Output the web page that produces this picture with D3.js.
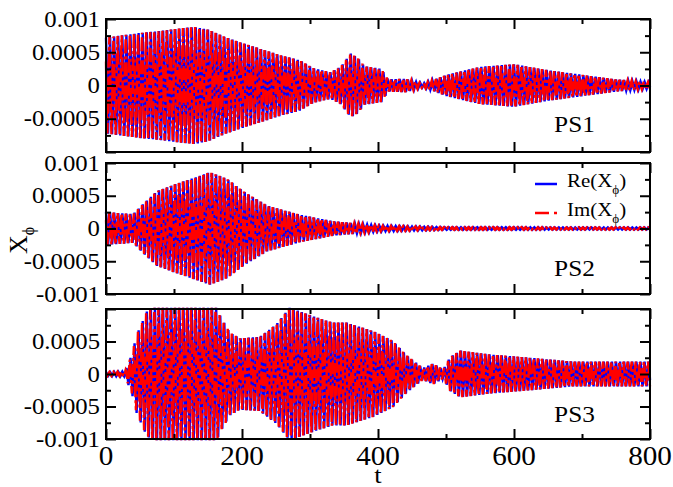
<!DOCTYPE html>
<html><head><meta charset="utf-8">
<script src="https://cdn.jsdelivr.net/npm/d3@7"></script>
<style>
body{margin:0;background:#fff}
svg{display:block}
text{font-family:"Liberation Serif","Times New Roman",Times,"DejaVu Serif",serif;fill:#000}
</style>
</head><body>
<svg id="c" width="673" height="487"></svg>
<script>
// ---- data ----
const panelNames = ["PS1", "PS2", "PS3"];
const xTicks = [0, 200, 400, 600, 800];
const xMinor = [100, 300, 500, 700];
const yTicks = [-0.001, -0.0005, 0, 0.0005, 0.001];
const yMinor = [-0.00075, -0.00025, 0.00025, 0.00075];
const yLabelsShown = [[0.001, 0.0005, 0, -0.0005], [0.001, 0.0005, 0, -0.0005, -0.001], [0.0005, 0, -0.0005, -0.001]];
const seriesNames = ["Re", "Im"];
// one cycle (6 time units) of the fast oscillation, sampled each unit
const carrierRe = [1, 0.5, -0.5, -1, -0.5, 0.5];
const carrierIm = [0.5, -0.5, -1, -0.5, 0.5, 1];
// envelope knots: [t, amplitude in units of 1e-4]
const envPS1 = [[0,7.2],[20,7.5],[50,7.9],[80,8.2],[110,8.6],[130,8.8],[150,8.4],[175,7.3],[200,6.4],[225,5.6],[255,4.6],[285,3.8],[305,2.6],[330,2.0],[345,2.8],[360,4.8],[370,4.2],[380,2.9],[405,2.5],[415,0.9],[440,1.0],[466,0.3],[481,0.8],[501,1.6],[525,2.2],[550,2.8],[600,3.2],[650,2.3],[700,1.6],[750,0.9],[800,0.5]];
const envPS2 = [[0,2.5],[40,2.2],[55,3.8],[75,5.7],[100,6.7],[120,7.4],[153,8.6],[178,7.6],[202,5.7],[237,3.5],[285,2.1],[334,1.1],[400,0.45],[500,0.2],[800,0.18]];
const envPS3 = [[0,0.3],[28,0.4],[38,3.0],[45,6.0],[60,9.6],[70,10.2],[163,10.2],[168,9.0],[182,6.4],[197,5.5],[226,5.7],[251,7.7],[270,10.2],[310,8.7],[334,7.9],[354,7.9],[393,6.6],[422,5.1],[442,2.9],[466,0.9],[481,1.6],[496,0.7],[506,2.6],[521,3.6],[565,3.0],[613,2.6],[687,1.9],[800,1.9]];
const envelopes = [envPS1, envPS2, envPS3];

// ---- layout ----
const left = 106, right = 650;
const panels = [{top:19,bottom:152},{top:163,bottom:294},{top:309,bottom:439}];
const svg = d3.select("#c");
const x = d3.scaleLinear().domain([0, 800]).range([left, right]);

function buildSeries(env, carrier) {
  const ts = env.map(d => d[0]), as = env.map(d => d[1]);
  const amp = d3.scaleLinear().domain(ts).range(as);
  const out = [];
  for (let t = 0; t <= 800; t++) out.push([t, amp(t) * 1e-4 * carrier[t % 6]]);
  return out;
}

panels.forEach((p, i) => {
  const y = d3.scaleLinear().domain([-0.001, 0.001]).range([p.bottom, p.top]);
  const g = svg.append("g");
  const line = d3.line().x(d => x(d[0])).y(d => y(d[1]));
  const re = buildSeries(envelopes[i], carrierRe);
  const im = buildSeries(envelopes[i], carrierIm);
  g.append("path").attr("d", line(re)).attr("fill","none").attr("stroke","#0000ff").attr("stroke-width",2.4);
  g.append("path").attr("d", line(im)).attr("fill","none").attr("stroke","#ff0000").attr("stroke-width",2.4)
    .attr("stroke-dasharray","14,3,3,3");

  // axes (inward ticks)
  const axes = [
    [d3.axisBottom(x), `translate(0,${p.bottom})`, xTicks, xMinor],
    [d3.axisTop(x), `translate(0,${p.top})`, xTicks, xMinor],
    [d3.axisLeft(y), `translate(${left},0)`, yTicks, yMinor],
    [d3.axisRight(y), `translate(${right},0)`, yTicks, yMinor]
  ];
  axes.forEach(([ax, tr, maj, mn]) => {
    const a1 = g.append("g").attr("transform", tr)
      .call(ax.tickValues(maj).tickSizeInner(-10).tickSizeOuter(0).tickFormat(""));
    a1.select(".domain").remove();
    const a2 = g.append("g").attr("transform", tr)
      .call(ax.tickValues(mn).tickSizeInner(-5).tickSizeOuter(0).tickFormat(""));
    a2.select(".domain").remove();
  });
  g.selectAll(".tick line").attr("stroke","#000").attr("stroke-width",2);
  g.append("rect").attr("x",left).attr("y",p.top).attr("width",right-left).attr("height",p.bottom-p.top)
    .attr("fill","none").attr("stroke","#000").attr("stroke-width",2);

  // y tick labels
  yLabelsShown[i].forEach(v => {
    g.append("text").attr("transform", `translate(100,${y(v)}) scale(1.1,1)`)
      .attr("text-anchor","end").attr("dy","0.34em").style("font-size","22.5px")
      .text(v === 0 ? "0" : String(v));
  });
  // panel name
  g.append("text").attr("transform", `translate(${x(659)},${p.top + 113}) scale(1.1,1)`)
    .style("font-size","23px").text(panelNames[i]);

  if (i === 2) {
    xTicks.forEach(v => {
      g.append("text").attr("transform", `translate(${x(v)},465) scale(1.1,1)`)
        .attr("text-anchor","middle").style("font-size","26.5px").text(String(v));
    });
  }
});

// axis titles
svg.append("text").attr("transform","translate(378,483) scale(1.1,1)").attr("text-anchor","middle")
  .style("font-size","24px").text("t");
const yl = svg.append("text").attr("transform","translate(27,254) rotate(-90)").style("font-size","26px");
yl.append("tspan").text("X");
yl.append("tspan").attr("dy", 7).style("font-size","16px").text("ϕ");

// legend
const lg = svg.append("g");
const legendY = [184, 213];
seriesNames.forEach((s, k) => {
  const ln = lg.append("line").attr("x1",535).attr("x2",557).attr("y1",legendY[k]).attr("y2",legendY[k])
    .attr("stroke", k === 0 ? "#0000ff" : "#ff0000").attr("stroke-width",2.5);
  if (k === 1) ln.attr("stroke-dasharray","14,5,3,5");
  const t = lg.append("text").attr("transform",`translate(567,${legendY[k]+3}) scale(1.1,1)`).style("font-size","19px");
  t.append("tspan").text(s + "(X");
  t.append("tspan").attr("dy",7).style("font-size","12px").text("ϕ");
  t.append("tspan").attr("dy",-7).text(")");
});
</script>
</body></html>
